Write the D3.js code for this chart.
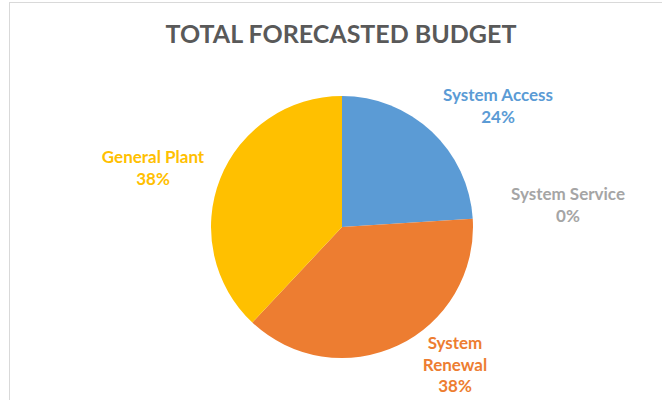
<!DOCTYPE html>
<html>
<head>
<meta charset="utf-8">
<script src="https://cdn.jsdelivr.net/npm/d3@7"></script>
<style>
html,body{margin:0;padding:0;background:#fff;}
svg{display:block;}
text{font-family:Lato,"Open Sans",sans-serif;font-weight:bold;}
</style>
</head>
<body>
<svg id="chart" width="662" height="400"></svg>
<script>
const categories = ["System Access", "System Renewal", "System Service", "General Plant"];
const values = [24, 38, 0, 38];
const colors = ["#5B9BD5", "#ED7D31", "#A5A5A5", "#FFC000"];
const title = "TOTAL FORECASTED BUDGET";

// label layout (lines + anchor point) kept separate from data
const labelLayout = [
  {x: 498, y: 101, lines: ["System Access"]},
  {x: 455, y: 349, lines: ["System", "Renewal"]},
  {x: 568, y: 200, lines: ["System Service"]},
  {x: 153, y: 163, lines: ["General Plant"]}
];

const svg = d3.select("#chart");
const W = 662, H = 400;
const cx = 342, cy = 227, r = 131;

svg.append("rect").attr("x", 9.5).attr("y", 2.5).attr("width", W).attr("height", H)
  .attr("fill", "#fff").attr("stroke", "#d9d9d9").attr("stroke-width", 1);

svg.append("text").attr("x", 341).attr("y", 43).attr("text-anchor", "middle")
  .attr("fill", "#595959").attr("font-size", 25).text(title);

const pie = d3.pie().sort(null).value(d => d)(values);
const arc = d3.arc().innerRadius(0).outerRadius(r);
const g = svg.append("g").attr("transform", `translate(${cx},${cy})`);
g.selectAll("path").data(pie).join("path")
  .attr("d", arc).attr("fill", (d, i) => colors[i]);

const fmt = d3.format(".0%");
labelLayout.forEach((L, i) => {
  const t = svg.append("text").attr("text-anchor", "middle").attr("fill", colors[i])
    .attr("font-size", 17);
  const lines = L.lines.concat([fmt(values[i] / d3.sum(values))]);
  lines.forEach((s, k) => {
    t.append("tspan").attr("x", L.x).attr("y", L.y + k * 21.5).text(s);
  });
});
</script>
</body>
</html>
